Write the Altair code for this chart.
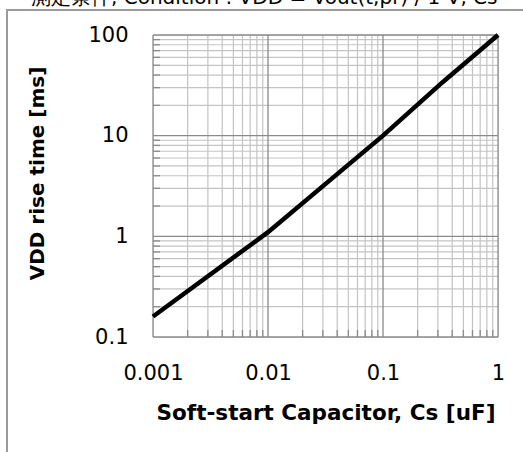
import altair as alt
import pandas as pd

# Data
cs_uF = [0.001, 0.01, 0.1, 0.33, 1.0]
rise_ms = [0.16, 1.1, 10.0, 34.0, 100.0]

x_major = [0.001, 0.01, 0.1, 1.0]
y_major = [0.1, 1.0, 10.0, 100.0]
x_minor = [0.002, 0.003, 0.004, 0.005, 0.006, 0.007, 0.008, 0.009,
           0.02, 0.03, 0.04, 0.05, 0.06, 0.07, 0.08, 0.09,
           0.2, 0.3, 0.4, 0.5, 0.6, 0.7, 0.8, 0.9]
y_minor = [0.2, 0.3, 0.4, 0.5, 0.6, 0.7, 0.8, 0.9,
           2, 3, 4, 5, 6, 7, 8, 9,
           20, 30, 40, 50, 60, 70, 80, 90]

header_text = ["測定条件, Condition : VDD = Vout(t,pr) / 1 V, Cs"]

x_title = "Soft-start Capacitor, Cs [uF]"
y_title = "VDD rise time [ms]"

FONT = "DejaVu Sans"
MAJOR = "#8a8a8a"
MINOR = "#c4c4c4"

xs = alt.Scale(type="log", domain=[0.001, 1], nice=False)
ys = alt.Scale(type="log", domain=[0.1, 100], nice=False)

x_axis = alt.Axis(
    values=x_major, labelExpr="format(datum.value, '~g')",
    grid=False, ticks=False, domain=False,
    labelFont=FONT, labelFontSize=21, labelColor="black",
    labelPadding=25, labelFlush=False, labelOverlap=False,
    title=x_title, titleFont=FONT, titleFontSize=21.5, titleFontWeight="bold",
    titleColor="black", titlePadding=19)
y_axis = alt.Axis(
    values=y_major, labelExpr="format(datum.value, '~g')",
    grid=False, ticks=False, domain=False,
    labelFont=FONT, labelFontSize=21, labelColor="black",
    labelPadding=25, labelFlush=False, labelOverlap=False,
    title=y_title, titleFont=FONT, titleFontSize=20, titleFontWeight="bold",
    titleColor="black", titlePadding=40, titleY=138)

df = pd.DataFrame({"cs": cs_uF, "t": rise_ms})
dxmin = pd.DataFrame({"cs": x_minor})
dymin = pd.DataFrame({"t": y_minor})
dxmaj = pd.DataFrame({"cs": x_major})
dymaj = pd.DataFrame({"t": y_major})

X = alt.X("cs:Q", scale=xs, axis=x_axis, title=x_title)
Y = alt.Y("t:Q", scale=ys, axis=y_axis, title=y_title)

minor_x = alt.Chart(dxmin).mark_rule(color=MINOR, strokeWidth=1.2).encode(x=X)
minor_y = alt.Chart(dymin).mark_rule(color=MINOR, strokeWidth=1.2).encode(y=Y)
major_x = alt.Chart(dxmaj).mark_rule(color=MAJOR, strokeWidth=1.3).encode(x=X)
major_y = alt.Chart(dymaj).mark_rule(color=MAJOR, strokeWidth=1.3).encode(y=Y)

tick_y = alt.Chart(dymin).mark_rule(color=MAJOR, strokeWidth=1.3).encode(
    y=Y, x=alt.value(0), x2=alt.value(7))
tick_x = alt.Chart(dxmin).mark_rule(color=MAJOR, strokeWidth=1.3).encode(
    x=X, y=alt.value(302), y2=alt.value(295))

line = alt.Chart(df).mark_line(color="black", strokeWidth=4.5).encode(x=X, y=Y)

header = alt.Chart(pd.DataFrame({"txt": header_text})).mark_text(
    align="left", baseline="alphabetic", font=FONT, fontSize=20, color="black"
).encode(text="txt:N", x=alt.value(-122), y=alt.value(-31))

frame_df = pd.DataFrame({"k": [0]})
frame_left = alt.Chart(frame_df).mark_rule(color="#9a9a9a", strokeWidth=2).encode(
    x=alt.value(-146), y=alt.value(-25), y2=alt.value(420))
frame_top = alt.Chart(frame_df).mark_rule(color="#9a9a9a", strokeWidth=2).encode(
    x=alt.value(-147), x2=alt.value(372), y=alt.value(-25))

chart = alt.layer(
    minor_x, minor_y, major_x, major_y, tick_y, tick_x, line, header,
    frame_left, frame_top
).properties(
    width=345, height=302,
    padding={"left": 153, "top": 35, "right": 25, "bottom": 115},
    autosize=alt.AutoSizeParams(type="none"),
).configure_view(stroke=MAJOR, strokeWidth=1.5).configure(background="white")

chart.save("out.html", embed_options={"renderer": "svg", "actions": False})
